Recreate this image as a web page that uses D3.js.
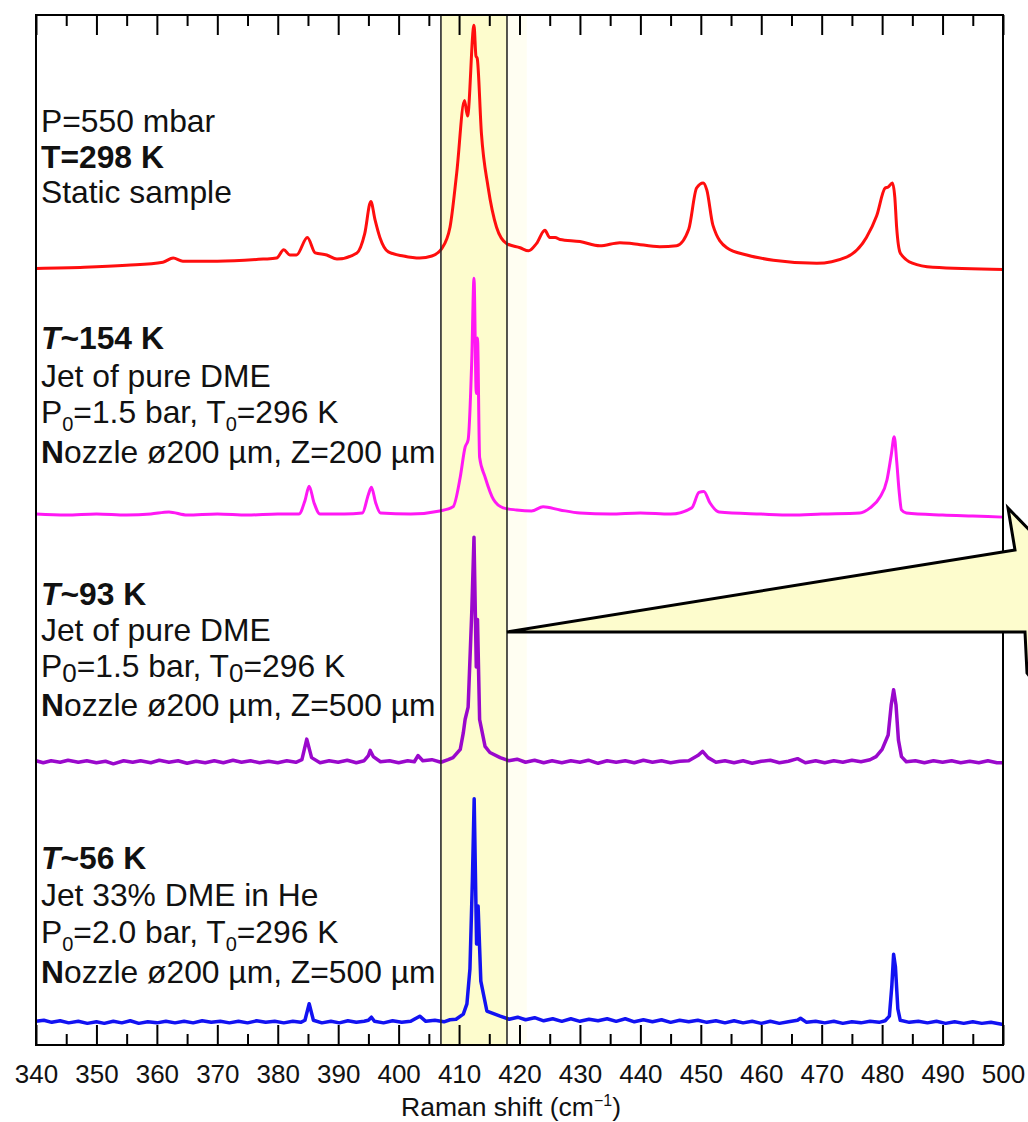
<!doctype html>
<html>
<head>
<style>
  body { margin: 0; background: #fff; }
  svg text { font-family: "Liberation Sans", Arial, sans-serif; fill: #111; }
  .lbl { font-size: 31.8px; }
  .tick text { font-size: 26px; }
</style>
<script src="https://d3js.org/d3.v7.min.js"></script>
</head>
<body>
<svg id="chart" width="1028" height="1122"></svg>
<script>
// Raman shift (cm-1), intensity above each trace's own baseline (arbitrary units)
var redTrace = [[340,0],[348,0.1],[355,0.3],[361,0.6],[362.7,1.0],[364.3,0.7],[370,0.7],[377.6,0.9],[379.8,1.0],
  [381,1.8],[382,1.3],[383.1,1.3],[384.9,3.0],[386.2,1.5],[388.1,1.3],[389.8,0.9],[393.1,1.5],[394.4,3.4],
  [395.4,6.5],[396.1,4.7],[396.9,3.0],[398.3,1.6],[400.8,1.2],[403.5,1.0],[405.5,1.2],[407.1,1.9],[408.5,4.0],
  [409.6,9.2],[410.9,16.3],[411.4,14.8],[412.47,23.6],[412.8,20.6],[413.0,20.4],[413.7,13.1],[414.8,7.9],
  [416.2,4.0],[417.9,2.4],[420.1,2.0],[421.5,1.7],[422.8,2.4],[424.2,3.7],[425.0,3.0],[425.9,3.0],[426.7,2.8],
  [430,2.6],[433.3,2.2],[436.6,2.5],[438.8,2.4],[443.2,2.1],[446,2.2],[448,3.8],[449.3,7.8],[450.4,8.3],[451,7.6],
  [452,4.2],[454.3,2.0],[457.6,1.3],[462,0.8],[469.2,0.5],[474.1,1.1],[477.4,3.0],[479.1,5.1],[480.5,7.8],
  [481,7.9],[481.7,8.3],[482.1,6.9],[482.4,4.0],[483,1.5],[485,0.5],[488.4,0.1],[500,-0.1]];

var magentaTrace = [[340,0.1],[345,0],[350,0.1],[355,0],[359,0.1],[362,0.3],[365,0],[370,0.1],[375,0],[380,0.1],
  [383.5,0.1],[384.5,1.4],[385.2,2.8],[386,1.2],[387,0.1],[391,0.1],[394,0.2],[395,2.0],[395.5,2.7],[396.2,1.2],
  [397,0.2],[402,0.1],[406.8,0.4],[409.0,0.8],[410.2,3.7],[411.0,6.6],[411.5,7.3],[412.1,15.0],[412.47,23.0],
  [412.85,11.8],[413.05,17.2],[413.4,5.6],[414.3,3.7],[415.7,1.5],[417.3,0.7],[419.5,0.5],[422,0.4],[423.9,0.8],
  [426.7,0.5],[430,0.2],[435,0.1],[440,0.2],[445,0.1],[448.5,0.7],[449.7,2.2],[450.5,2.3],[451.5,1.2],[453,0.3],
  [460,0.1],[465,0],[470,0.1],[476.3,0.2],[478,0.7],[479.6,1.7],[480.8,3.4],[481.5,5.8],[482.0,7.6],[482.4,5.3],
  [482.8,2.4],[483.2,0.5],[484,0.2],[490,0],[495,-0.1],[500,-0.2]];

var purpleTrace = [[340,0.1],[341.2,-0.1],[342.5,0.1],[344,-0.05],[345.3,0.15],[347,-0.05],[348.4,0.1],[350,-0.1],
  [351.5,0.05],[352.8,-0.2],[354.5,0.1],[356,-0.05],[357.3,0.1],[359,-0.1],[360.4,0.15],[362,-0.05],[363.5,0.1],
  [365,-0.15],[366.5,0.05],[368,-0.1],[369.5,0.1],[371,-0.1],[372.6,0.15],[374,-0.05],[375.5,0.1],[377,-0.1],
  [378.5,0.05],[380,-0.1],[381.5,0.1],[383,-0.05],[384,0.2],[384.8,2.2],[385.6,0.4],[387,-0.1],[388.5,0.1],
  [390,-0.05],[391.5,0.15],[393,-0.1],[394.3,0.1],[395,0.6],[395.3,1.1],[395.8,0.5],[397,0],[398.5,0.1],
  [400,-0.1],[401.5,0.1],[402.6,0],[403.2,0.6],[404,0.1],[405.5,0.2],[407,-0.05],[408.2,0.2],[409.0,0.4],
  [410.2,1.2],[410.7,2.8],[411.0,4.1],[411.5,5.3],[412.1,14.5],[412.47,21.8],[412.85,9.2],[413.05,13.8],
  [413.4,4.1],[414.3,1.5],[415.1,0.9],[416.8,0.4],[418.2,0.1],[419.6,0.25],[421,-0.05],[422.5,0.15],[424,-0.1],
  [425.4,0.1],[427,-0.1],[428.5,0.1],[430,-0.05],[431.4,0.15],[433,-0.15],[434.5,0.1],[436,-0.05],[437.5,0.1],
  [439,-0.1],[440.5,0.15],[442,-0.05],[443.5,0.1],[445,-0.1],[446.5,0.05],[448,0.1],[449.5,0.6],[450.3,1.0],
  [451.2,0.4],[452.5,-0.05],[454,0.1],[455.5,-0.1],[457,0.1],[458.5,-0.15],[460,0.05],[461.5,0.15],[463,-0.1],
  [464.5,0.05],[466,0.3],[467.3,-0.1],[469,0.1],[470.5,-0.1],[472,0.1],[473.5,-0.05],[475,0.15],[476.5,0],
  [478,0.2],[479,0.5],[480,1.2],[481,2.6],[481.5,5.5],[481.9,7.0],[482.3,5.5],[482.7,2.1],[483.2,0.5],[484,0],
  [485.5,0.1],[487,-0.1],[488.5,0.1],[490,-0.05],[491.5,0.1],[493,-0.1],[494.5,0.05],[496,-0.1],[497.5,0.1],
  [499,-0.1],[500,-0.1]];

var blueTrace = [[340,0.1],[341.3,0.2],[342.6,0],[344,0.15],[345.4,-0.05],[347,0.1],[348.5,-0.1],[350,0.05],
  [351.3,-0.1],[352.8,0.1],[354.2,-0.05],[355.6,0.15],[357,-0.1],[358.5,0.05],[360,-0.05],[361.5,0.1],
  [363,-0.05],[364.5,0.1],[366,-0.05],[367.5,0.15],[369,0],[370.5,0.1],[372,-0.05],[373.5,0.1],[375,-0.05],
  [376.5,0.15],[378,0],[379.5,0.1],[381,-0.05],[382.5,0.1],[383.8,0],[384.5,0.2],[385.2,1.8],[385.9,0.2],
  [387.3,-0.05],[388.8,0.1],[390.2,-0.05],[391.6,0.15],[393,0],[394.3,0.1],[395.0,0.2],[395.5,0.5],[396,0.1],
  [397.5,-0.05],[399,0.15],[400.5,0],[402,0.1],[403.5,0.6],[404.5,0.1],[406,0.2],[407.5,0.05],[408.5,0.25],
  [409.5,0.3],[410.7,0.8],[411.3,1.8],[411.8,5.2],[412.2,13.7],[412.5,21.7],[412.9,7.6],[413.15,11.3],
  [413.6,4.0],[414.6,1.1],[416.8,0.6],[418.3,0.3],[419.7,0.5],[421,0.25],[422.5,0.45],[424,0.15],[425.5,0.35],
  [427,0.1],[428.5,0.35],[430,0.1],[431.5,0.3],[433,0.15],[434.5,0.35],[436,0.1],[437.5,0.35],[439,0.05],
  [440.5,0.25],[442,0.05],[443.5,0.25],[445,0],[446.5,0.2],[448,0.05],[449.5,0.2],[451,0],[452.5,0.15],
  [454,-0.05],[455.5,0.15],[457,-0.05],[458.5,0.1],[460,-0.1],[461.5,0.1],[463,-0.1],[464.5,0.05],[466,0.2],
  [466.5,0.4],[467.5,0],[469,0.1],[470.5,-0.05],[472,0.1],[473.5,-0.1],[475,0.05],[476.5,-0.05],[478,0.1],
  [479.5,0],[480.5,0.15],[481.2,0.6],[481.6,3.5],[481.9,6.6],[482.2,5.4],[482.6,1.3],[483,0.2],[484.5,0],
  [486,0.1],[487.5,-0.05],[489,0.1],[490.5,-0.1],[492,0.05],[493.5,-0.1],[495,0.05],[496.5,-0.1],[498,0],
  [500,-0.2]];

var traceColors = ["#ff0e0e", "#ff18f4", "#9a08cc", "#1212f2"];
var traceOffsets = [75.4, 51.45, 27.5, 2.2];

var majorTicks = [340,350,360,370,380,390,400,410,420,430,440,450,460,470,480,490,500];
var minorTicks = [345,355,365,375,385,395,405,415,425,435,445,455,465,475,485,495];

var bandRange = [407.0, 417.93];
var glowRange = [417.93, 421.2];

var svg = d3.select("#chart");
var plotL = 36, plotR = 1003, plotT = 15, plotB = 1045;

var x = d3.scaleLinear().domain([340, 500]).range([plotL, plotR]);
var y = d3.scaleLinear().domain([0, 100]).range([plotB, plotT]);

svg.append("rect").attr("width", 1028).attr("height", 1122).attr("fill", "#fff");

// highlighted region
svg.append("rect")
  .attr("x", x(glowRange[0])).attr("y", plotT)
  .attr("width", x(glowRange[1]) - x(glowRange[0])).attr("height", plotB - plotT)
  .attr("fill", "#fffef2");
svg.append("rect")
  .attr("x", x(bandRange[0])).attr("y", plotT)
  .attr("width", x(bandRange[1]) - x(bandRange[0])).attr("height", plotB - plotT)
  .attr("fill", "#fdfccd");

// spectra (the two noisy jet spectra drawn with straight segments)
var traces = [redTrace, magentaTrace, purpleTrace, blueTrace];
traces.forEach(function(tr, i) {
  var line = d3.line()
    .x(function(d) { return x(d[0]); })
    .y(function(d) { return y(traceOffsets[i] + d[1]); })
    .curve(i < 2 ? d3.curveMonotoneX : d3.curveLinear);
  svg.append("path")
    .datum(tr)
    .attr("fill", "none")
    .attr("stroke", traceColors[i])
    .attr("stroke-width", i < 2 ? 3 : 3.5)
    .attr("stroke-linejoin", "round")
    .attr("d", line);
});

// band edges
bandRange.forEach(function(v) {
  svg.append("line")
    .attr("x1", x(v)).attr("x2", x(v)).attr("y1", plotT).attr("y2", plotB)
    .attr("stroke", "#2a2a2a").attr("stroke-width", 1.6);
});

// frame
svg.append("rect")
  .attr("x", plotL).attr("y", plotT)
  .attr("width", plotR - plotL).attr("height", plotB - plotT)
  .attr("fill", "none").attr("stroke", "#000").attr("stroke-width", 2);

// ticks, pointing inward on top and bottom
function tickAxis(axisFn, vals, len, ypos) {
  var g = svg.append("g")
    .attr("transform", "translate(0," + ypos + ")")
    .call(axisFn(x).tickValues(vals).tickSize(-len).tickFormat(""));
  g.select(".domain").remove();
  g.selectAll("line").attr("stroke", "#000").attr("stroke-width", 2);
}
tickAxis(d3.axisBottom, majorTicks, 20, plotB);
tickAxis(d3.axisBottom, minorTicks, 11, plotB);
tickAxis(d3.axisTop, majorTicks, 20, plotT);
tickAxis(d3.axisTop, minorTicks, 11, plotT);

var labels = svg.append("g")
  .attr("transform", "translate(0," + plotB + ")")
  .call(d3.axisBottom(x).tickValues(majorTicks).tickSize(0).tickPadding(20).tickFormat(d3.format("d")));
labels.select(".domain").remove();
labels.attr("font-size", null).attr("font-family", null);
labels.selectAll("text").attr("fill", "#111");

var title = svg.append("text")
  .attr("x", 511).attr("y", 1116)
  .attr("text-anchor", "middle")
  .attr("font-size", 26.5);
title.append("tspan").text("Raman shift (cm");
title.append("tspan").attr("font-size", 16).attr("dy", -10).text("\u22121");
title.append("tspan").attr("dy", 10).text(")");

// condition labels
function addLine(yb, parts) {
  var t = svg.append("text").attr("class", "lbl").attr("x", 41).attr("y", yb);
  parts.forEach(function(p) {
    var s = t.append("tspan").text(p.t);
    if (p.b) s.attr("font-weight", "bold");
    if (p.i) s.attr("font-style", "italic");
    if (p.sub) s.attr("font-size", p.sub).attr("dy", p.dy);
    if (p.back) s.attr("dy", -p.back);
  });
}
function pLine(yb, pressure, subSize, subDy) {
  addLine(yb, [
    {t: "P"}, {t: "0", sub: subSize, dy: subDy}, {t: "=" + pressure + " bar, T", back: subDy},
    {t: "0", sub: subSize, dy: subDy}, {t: "=296 K", back: subDy}
  ]);
}
function nozzleLine(yb, z) {
  addLine(yb, [{t: "N", b: true}, {t: "ozzle \u00f8200 \u00b5m, Z=" + z + " \u00b5m"}]);
}

addLine(132, [{t: "P=550 mbar"}]);
addLine(168, [{t: "T=298 K", b: true}]);
addLine(203, [{t: "Static sample"}]);

addLine(349, [{t: "T", b: true, i: true}, {t: "~154 K", b: true}]);
addLine(387, [{t: "Jet of pure DME"}]);
pLine(423, "1.5", 20, 8);
nozzleLine(463, "200");

addLine(605, [{t: "T", b: true, i: true}, {t: "~93 K", b: true}]);
addLine(641, [{t: "Jet of pure DME"}]);
pLine(677, "1.5", 26, 5);
nozzleLine(716, "500");

addLine(869, [{t: "T", b: true, i: true}, {t: "~56 K", b: true}]);
addLine(906, [{t: "Jet 33% DME in He"}]);
pLine(943, "2.0", 20, 8);
nozzleLine(983, "500");

// zoom callout arrow pointing at the band
var tipX = x(bandRange[1]), tipY = 632;
var callout = [[tipX, tipY], [1015, 550], [1008, 508], [1040, 541], [1040, 690], [1027, 673], [1025, tipY]];
svg.append("path")
  .attr("d", d3.line()(callout) + "Z")
  .attr("fill", "#fdfccd")
  .attr("stroke", "#000")
  .attr("stroke-width", 3)
  .attr("stroke-linejoin", "miter");
</script>
</body>
</html>
